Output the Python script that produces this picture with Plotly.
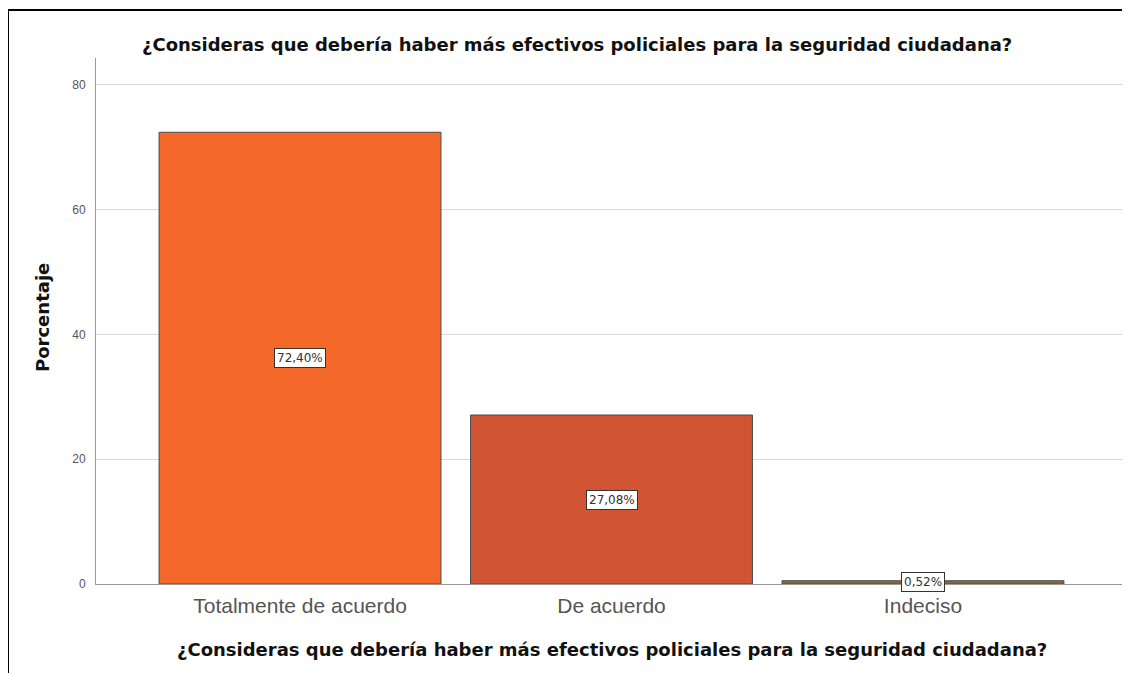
import plotly.graph_objects as go

categories = ["Totalmente de acuerdo", "De acuerdo", "Indeciso"]
values = [72.40, 27.08, 0.52]
labels = ["72,40%", "27,08%", "0,52%"]
colors = ["#F4682A", "#D15434", "#8A6A3C"]
y_ticks = [0, 20, 40, 60, 80]

title_text = "¿Consideras que debería haber más efectivos policiales para la seguridad ciudadana?"

# page body has an 8px margin; positions below are in reference-page pixels
OFF = 8
W, H = 1130 - OFF, 673 - OFF
PL, PR, PT, PB = 96, 1127, 58, 584  # plot area in page pixels
L, R, T, B = PL - OFF, W - (PR - OFF), PT - OFF, H - (PB - OFF)
pw = W - L - R
ph = H - T - B

def px_x(x):
    return (x - OFF - L) / pw

def px_y(y):
    return (H - B - (y - OFF)) / ph

BOLD = "DejaVu Sans, Verdana, sans-serif"
REG = "Liberation Sans, Arial, sans-serif"

fig = go.Figure()
fig.add_trace(go.Bar(
    x=list(range(len(categories))),
    y=values,
    marker=dict(color=colors, line=dict(color="#4a4a4a", width=1)),
    width=0.905,
    hoverinfo="skip",
))

annotations = []
for i, (v, lab) in enumerate(zip(values, labels)):
    annotations.append(dict(
        x=i, y=v / 2, xref="x", yref="y", text=lab, showarrow=False,
        font=dict(family=BOLD, size=12, color="#333"),
        bgcolor="white", bordercolor="#333", borderwidth=1, borderpad=2,
    ))

annotations.append(dict(
    x=px_x(577), y=px_y(45), xref="paper", yref="paper", text="<b>" + title_text + "</b>",
    showarrow=False, font=dict(family=BOLD, size=18, color="#111"),
    xanchor="center", yanchor="middle",
))
annotations.append(dict(
    x=px_x(612), y=px_y(649), xref="paper", yref="paper", text="<b>" + title_text + "</b>",
    showarrow=False, font=dict(family=BOLD, size=18, color="#111"),
    xanchor="center", yanchor="middle",
))
annotations.append(dict(
    x=px_x(42), y=px_y(318), xref="paper", yref="paper", text="<b>Porcentaje</b>",
    showarrow=False, textangle=-90, font=dict(family=BOLD, size=18, color="#111"),
    xanchor="center", yanchor="middle",
))

shapes = [
    dict(type="line", xref="paper", yref="paper", x0=px_x(8), x1=px_x(8), y0=px_y(10), y1=px_y(690),
         line=dict(color="black", width=2)),
    dict(type="line", xref="paper", yref="paper", x0=px_x(8), x1=px_x(1140), y0=px_y(10), y1=px_y(10),
         line=dict(color="black", width=2)),
]

fig.update_layout(
    width=W, height=H,
    margin=dict(l=L, r=R, t=T, b=B),
    paper_bgcolor="white", plot_bgcolor="white",
    showlegend=False,
    annotations=annotations,
    shapes=shapes,
    xaxis=dict(
        range=[-0.655, 2.655],
        tickvals=list(range(len(categories))), ticktext=categories,
        tickfont=dict(family=REG, size=21, color="#555"),
        showgrid=False, zeroline=False, showline=True, linecolor="#999", linewidth=1,
        ticks="", ticklabelstandoff=3,
    ),
    yaxis=dict(
        range=[0, 84.3],
        tickvals=y_ticks,
        tickfont=dict(family=REG, size=12, color="#555"),
        showgrid=True, gridcolor="#d8d8d8", gridwidth=1,
        zeroline=False, showline=True, linecolor="#999", linewidth=1,
        ticks="", ticklabelstandoff=7,
    ),
)

fig.write_html("out.html")
